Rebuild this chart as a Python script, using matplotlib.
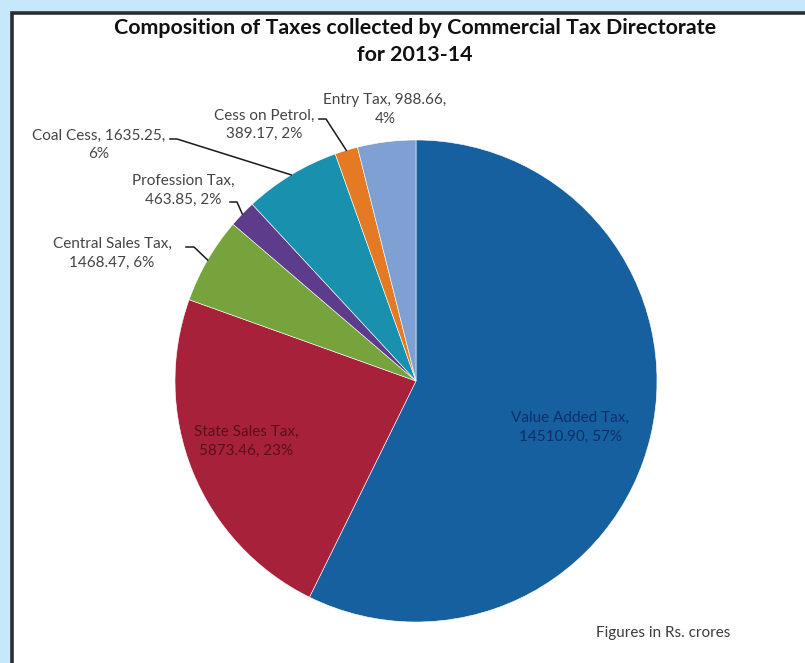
import matplotlib
matplotlib.use("Agg")
import matplotlib.pyplot as plt
from matplotlib.patches import Rectangle
import numpy as np

plt.rcParams['font.family'] = ['Lato', 'DejaVu Sans']

# Tax heads and collections (Rs. crores), clockwise from 12 o'clock
categories = ["Value Added Tax", "State Sales Tax", "Central Sales Tax",
              "Profession Tax", "Coal Cess", "Cess on Petrol", "Entry Tax"]
values = [14510.90, 5873.46, 1468.47, 463.85, 1635.25, 389.17, 988.66]
colors = ["#16609f", "#a8213a", "#76a33b", "#5d3c8c", "#1890ae", "#e57a24", "#7ea0d3"]

W, H = 805, 663
fig = plt.figure(figsize=(W / 100, H / 100), dpi=100)
fig.patch.set_facecolor("#c6e8f8")

# overlay in pixel coordinates for the panel, texts and leader lines
ov = fig.add_axes([0, 0, 1, 1], zorder=0)
ov.set_xlim(0, W)
ov.set_ylim(H, 0)
ov.axis("off")
ov.add_patch(Rectangle((11.5, 12.5), W + 20, H + 20, facecolor="white",
                       edgecolor="#2b2e31", linewidth=2.6))

# pie axes: centre (416, 381), radius 241 px
cx, cy, r = 416, 381, 241
ax = fig.add_axes([(cx - r) / W, (H - cy - r) / H, 2 * r / W, 2 * r / H], zorder=1)
wedges, _ = ax.pie(values, colors=colors, startangle=90, counterclock=False,
                   wedgeprops=dict(linewidth=0.4, edgecolor="white"))
ax.set_xlim(-1, 1)
ax.set_ylim(-1, 1)
ax.set_aspect("equal")
ax.axis("off")

ov2 = fig.add_axes([0, 0, 1, 1], zorder=2)
ov2.set_xlim(0, W)
ov2.set_ylim(H, 0)
ov2.axis("off")

total = sum(values)
pct = [round(v / total * 100) for v in values]


def edge_point(i):
    w = wedges[i]
    mid = np.deg2rad((w.theta1 + w.theta2) / 2)
    return cx + r * np.cos(mid), cy - r * np.sin(mid)


label_color = "#454545"
fs = 11.0

# title
ov2.text(415, 28, "Composition of Taxes collected by Commercial Tax Directorate",
         ha="center", va="center", fontsize=15.4, fontweight="bold", color="#111111")
ov2.text(415, 55, "for 2013-14", ha="center", va="center",
         fontsize=15.4, fontweight="bold", color="#111111")

# labels inside the two large slices
ov2.text(570, 418, f"{categories[0]},", ha="center", va="center", fontsize=fs, color="#0f2f6a")
ov2.text(570, 437, f"{values[0]:.2f}, {pct[0]}%", ha="center", va="center", fontsize=fs, color="#0f2f6a")
ov2.text(246, 432, f"{categories[1]},", ha="center", va="center", fontsize=fs, color="#5a0f1c")
ov2.text(246, 451, f"{values[1]:.2f}, {pct[1]}%", ha="center", va="center", fontsize=fs, color="#5a0f1c")

# outside labels: (index, line1, line2, centre x, y1, y2, leader start, stub end)
outside = [
    (2, f"{categories[2]},", f"{values[2]:.2f}, {pct[2]}%", 112, 244, 263, (186, 247), (194, 247)),
    (3, f"{categories[3]},", f"{values[3]:.2f}, {pct[3]}%", 183, 181, 200, (230, 202), (237, 202)),
    (4, f"{categories[4]}, {values[4]:.2f},", f"{pct[4]}%", 99, 136, 154, (170, 139), (177, 139)),
    (5, f"{categories[5]},", f"{values[5]:.2f}, {pct[5]}%", 264, 116, 134, (319, 119), (326, 119)),
    (6, f"{categories[6]}, {values[6]:.2f},", f"{pct[6]}%", 385, 100, 119, None, None),
]
for i, l1, l2, x, y1, y2, p0, p1 in outside:
    ov2.text(x, y1, l1, ha="center", va="center", fontsize=fs, color=label_color)
    ov2.text(x, y2, l2, ha="center", va="center", fontsize=fs, color=label_color)
    if p0 is not None:
        ex, ey = edge_point(i)
        ov2.plot([p0[0], p1[0], ex], [p0[1], p1[1], ey], color="#1a1a1a", lw=1.1)

ov2.text(663, 633, "Figures in Rs. crores", ha="center", va="center",
         fontsize=fs, color="#3c3c3c")

fig.savefig("out.png", dpi=100, facecolor=fig.get_facecolor())
